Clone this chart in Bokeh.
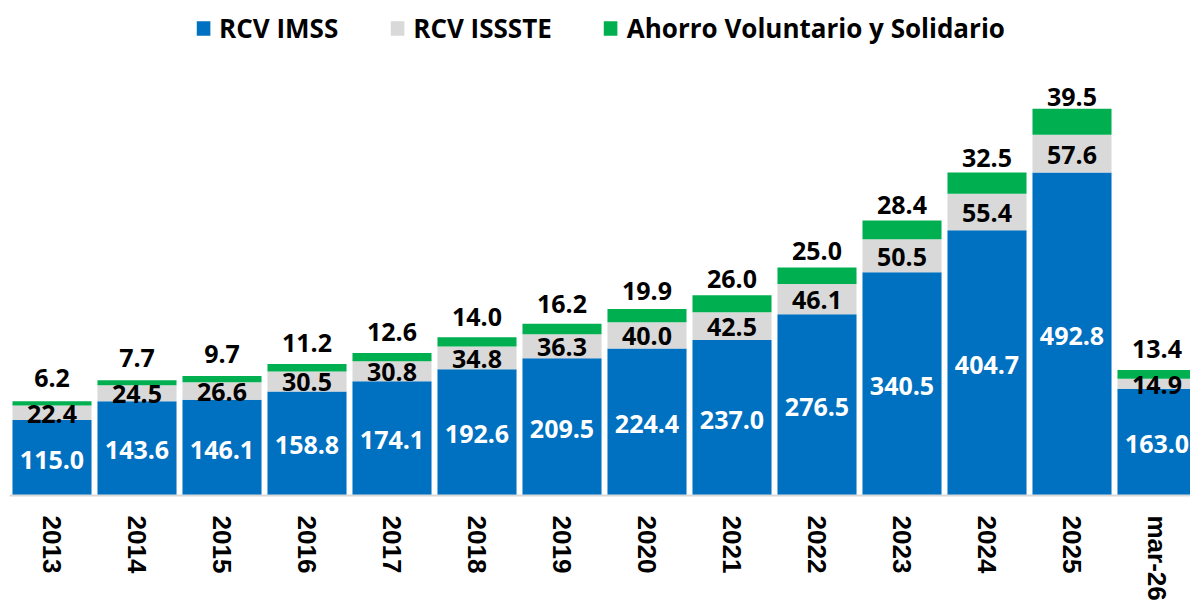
from bokeh.plotting import figure
from bokeh.models import ColumnDataSource, Range1d, LabelSet, Legend
from bokeh.core.properties import value
from bokeh.embed import file_html
from bokeh.resources import INLINE

categories = ["2013", "2014", "2015", "2016", "2017", "2018", "2019", "2020",
              "2021", "2022", "2023", "2024", "2025", "mar-26"]
rcv_imss = [115.0, 143.6, 146.1, 158.8, 174.1, 192.6, 209.5, 224.4, 237.0,
            276.5, 340.5, 404.7, 492.8, 163.0]
rcv_issste = [22.4, 24.5, 26.6, 30.5, 30.8, 34.8, 36.3, 40.0, 42.5, 46.1,
              50.5, 55.4, 57.6, 14.9]
ahorro_vol = [6.2, 7.7, 9.7, 11.2, 12.6, 14.0, 16.2, 19.9, 26.0, 25.0,
              28.4, 32.5, 39.5, 13.4]
series_names = ["RCV IMSS", "RCV ISSSTE", "Ahorro Voluntario y Solidario"]
colors = ["#0070C0", "#D9D9D9", "#00B050"]

xs = list(range(len(categories)))
src = ColumnDataSource(dict(
    x=xs,
    imss=rcv_imss,
    issste=rcv_issste,
    vol=ahorro_vol,
    imss_lbl=[f"{v:.1f}" for v in rcv_imss],
    issste_lbl=[f"{v:.1f}" for v in rcv_issste],
    vol_lbl=[f"{v:.1f}" for v in ahorro_vol],
    imss_mid=[a / 2 for a in rcv_imss],
    issste_mid=[a + b / 2 for a, b in zip(rcv_imss, rcv_issste)],
    vol_mid=[a + b + c / 2 for a, b, c in zip(rcv_imss, rcv_issste, ahorro_vol)],
))

W, H = 1190, 605
p = figure(width=W, height=H, output_backend="svg", toolbar_location=None,
           x_range=Range1d(-0.5, -0.5 + 1181 / 85), y_range=Range1d(0, 755),
           min_border_left=9, min_border_right=0, min_border_top=0,
           min_border_bottom=110)
p.outline_line_color = None
p.xgrid.grid_line_color = None
p.ygrid.grid_line_color = None
p.yaxis.visible = False

renderers = p.vbar_stack(["imss", "issste", "vol"], x="x", width=0.93,
                         color=colors, line_color=None, source=src)

font = "Open Sans"
common = dict(source=src, x="x", text_align="center", text_baseline="middle",
              text_font=value(font), text_font_style="bold",
              text_font_size="25px")
p.add_layout(LabelSet(y="imss_mid", text="imss_lbl", text_color="white",
                      x_offset=0, y_offset=-2, **common))
p.add_layout(LabelSet(y="issste_mid", text="issste_lbl", text_color="black",
                      y_offset=-1, **common))
p.add_layout(LabelSet(y="vol_mid", text="vol_lbl", text_color="black",
                      y_offset=25, **common))

legend = Legend(items=[(n, [r]) for n, r in zip(series_names, renderers)],
                location="top_center", orientation="horizontal",
                label_text_font=font, label_text_font_style="bold",
                label_text_font_size="26px", label_text_color="black",
                glyph_width=17, glyph_height=18, label_standoff=8,
                spacing=50, padding=5, margin=10,
                border_line_color=None, background_fill_alpha=0)
p.add_layout(legend)

ax = p.xaxis[0]
ax.ticker = xs
ax.major_label_overrides = {i: c for i, c in enumerate(categories)}
ax.major_label_orientation = "vertical"
ax.major_label_text_font = "Liberation Sans"
ax.major_label_text_font_style = "bold"
ax.major_label_text_font_size = "26px"
ax.major_label_text_color = "black"
ax.major_label_standoff = 14
ax.major_tick_line_color = None
ax.minor_tick_line_color = None
ax.axis_line_color = "#D9D9D9"
ax.axis_line_width = 2

open("out.html", "w").write(file_html(p, INLINE))
